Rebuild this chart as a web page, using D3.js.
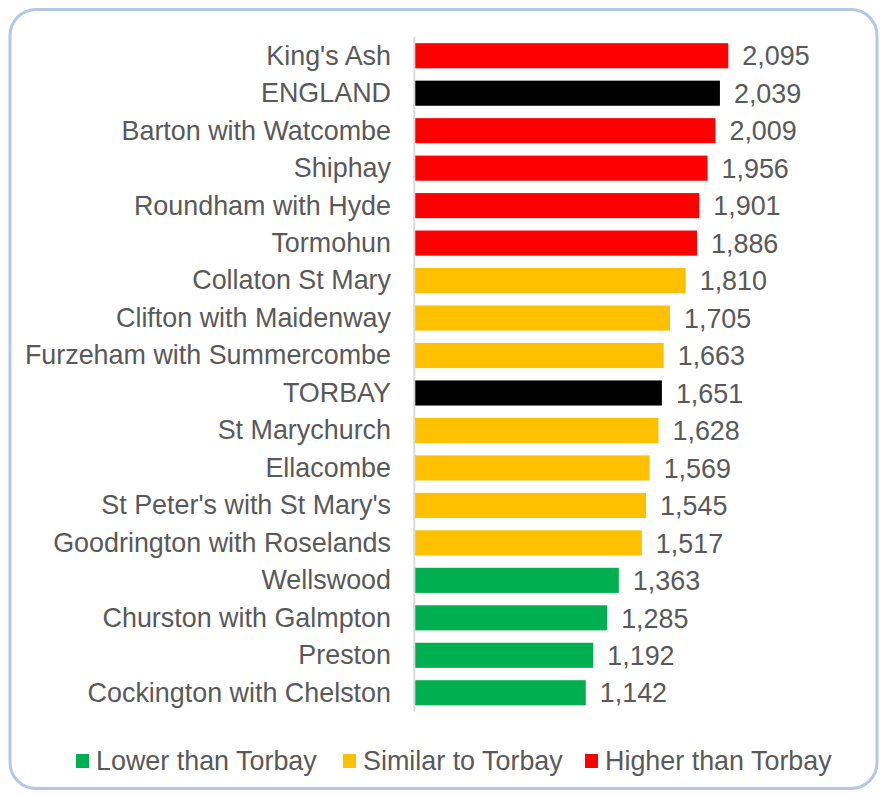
<!DOCTYPE html>
<html><head><meta charset="utf-8">
<script src="https://cdn.jsdelivr.net/npm/d3@7"></script>
<style>body{margin:0;background:#fff}svg{display:block}text{font-family:"Liberation Sans",Arial,sans-serif;fill:#595959}</style>
</head><body><svg id="c" width="883" height="795"></svg>
<script>
const categories = ["King's Ash","ENGLAND","Barton with Watcombe","Shiphay","Roundham with Hyde","Tormohun","Collaton St Mary","Clifton with Maidenway","Furzeham with Summercombe","TORBAY","St Marychurch","Ellacombe","St Peter's with St Mary's","Goodrington with Roselands","Wellswood","Churston with Galmpton","Preston","Cockington with Chelston"];
const values = [2095,2039,2009,1956,1901,1886,1810,1705,1663,1651,1628,1569,1545,1517,1363,1285,1192,1142];
const groups = ["higher","ref","higher","higher","higher","higher","similar","similar","similar","ref","similar","similar","similar","similar","lower","lower","lower","lower"];
const legendKeys = ["lower","similar","higher"];
const legendLabels = ["Lower than Torbay","Similar to Torbay","Higher than Torbay"];
const colors = {higher:"#ff0000",similar:"#ffc000",lower:"#00b050",ref:"#000000"};

const svg = d3.select("#c");
svg.append("rect").attr("x",10).attr("y",9.5).attr("width",867).attr("height",779)
  .attr("rx",26).attr("fill","#fff").attr("stroke","#b4c7e7").attr("stroke-width",3);

const x = d3.scaleLinear().domain([0,2095]).range([415,728.3]);
const y = d3.scaleBand().domain(categories).range([37,711.5]).paddingInner(0.33).paddingOuter(0.165);
const fs = 26.9;

svg.append("g").selectAll("rect").data(categories).join("rect")
  .attr("x",x(0)).attr("y",d=>y(d)).attr("height",y.bandwidth())
  .attr("width",(d,i)=>x(values[i])-x(0))
  .attr("fill",(d,i)=>colors[groups[i]]);

svg.append("line").attr("x1",414.3).attr("x2",414.3).attr("y1",37).attr("y2",711.5)
  .attr("stroke","#d9d9d9").attr("stroke-width",2);

svg.append("g").selectAll("text").data(categories).join("text")
  .attr("x",391).attr("y",d=>y(d)+y.bandwidth()/2+fs*0.33)
  .attr("text-anchor","end").attr("font-size",fs).text(d=>d);

const fmt = d3.format(",");
svg.append("g").selectAll("text").data(categories).join("text")
  .attr("x",(d,i)=>x(values[i])+14).attr("y",d=>y(d)+y.bandwidth()/2+fs*0.36)
  .attr("font-size",fs).text((d,i)=>fmt(values[i]));

const lx = [76,343,585];
const lg = svg.append("g");
legendKeys.forEach((k,i)=>{
  lg.append("rect").attr("x",lx[i]).attr("y",754).attr("width",13).attr("height",14).attr("fill",colors[k]);
  lg.append("text").attr("x",lx[i]+20).attr("y",769.5).attr("font-size",fs).text(legendLabels[i]);
});
</script></body></html>
